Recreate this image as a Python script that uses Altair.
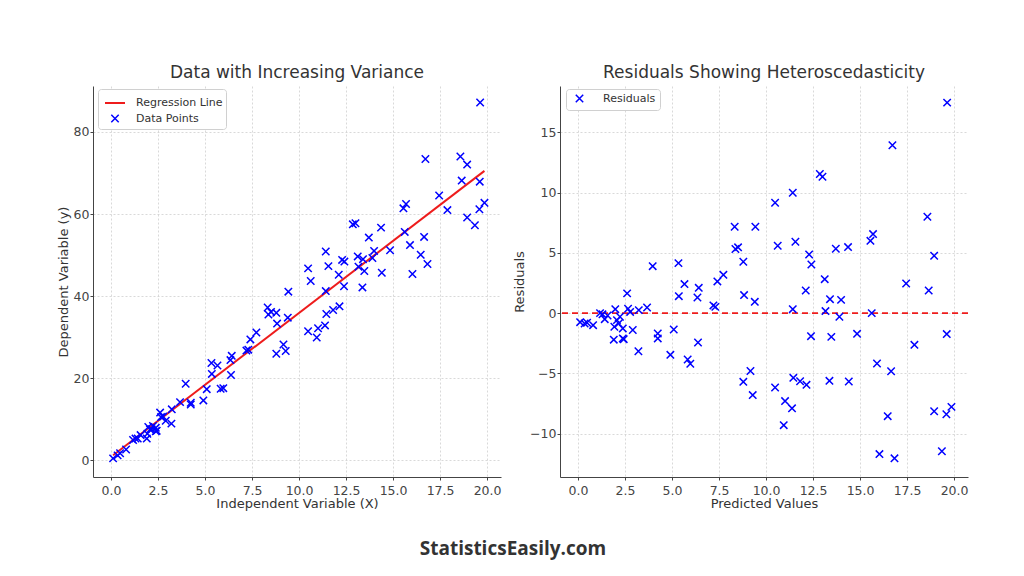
import altair as alt
import pandas as pd

# ---- data ----
X = [0.11, 0.35, 0.48, 0.80, 1.17, 1.30, 1.42, 1.57, 1.98, 1.93,
     1.90, 2.07, 2.16, 2.23, 2.38, 2.43, 2.38, 2.66, 2.77, 2.91,
     3.23, 3.21, 3.67, 4.24, 4.24, 5.09, 4.91, 5.83, 5.97, 6.38,
     7.20, 7.30, 8.79, 9.17, 9.29, 3.97, 5.34, 2.61, 5.66, 5.36,
     6.42, 6.35, 7.41, 7.73, 8.33, 9.43, 8.37, 8.51, 8.79, 8.83,
     9.40, 19.63, 16.72, 12.86, 13.00, 11.42, 10.48, 18.58, 10.62, 11.56,
     12.29, 12.41, 13.71, 14.36, 15.69, 15.55, 18.94, 13.12, 12.11, 13.40,
     13.99, 17.45, 18.65, 11.42, 13.16, 13.90, 15.62, 12.39, 13.47, 14.84,
     17.89, 19.61, 15.90, 16.65, 10.48, 11.45, 11.81, 12.15, 13.37, 14.40,
     11.01, 11.38, 10.94, 16.47, 18.94, 19.59, 19.86, 16.03, 16.83, 19.35]

Y = [0.44, 1.17, 1.68, 2.61, 4.91, 5.26, 5.28, 6.11, 8.08, 6.44,
     5.27, 7.49, 7.52, 8.33, 7.88, 7.17, 7.05, 10.50, 10.62, 9.61,
     12.39, 8.91, 14.15, 13.99, 13.58, 17.31, 14.57, 17.41, 17.55, 20.75,
     26.71, 26.94, 25.95, 28.19, 26.61, 18.63, 23.69, 11.60, 23.08, 21.02,
     25.43, 24.39, 29.44, 31.11, 37.21, 41.07, 35.50, 36.13, 35.91, 33.29,
     34.73, 87.17, 73.42, 57.49, 57.75, 50.87, 46.75, 74.02, 43.67, 47.30,
     48.81, 48.40, 54.26, 56.68, 62.43, 61.38, 72.04, 49.67, 45.19, 48.99,
     51.00, 64.51, 68.14, 41.21, 47.16, 49.29, 55.63, 42.38, 46.11, 51.17,
     60.96, 67.89, 52.43, 54.42, 31.42, 35.62, 36.60, 37.50, 42.11, 45.67,
     32.15, 32.84, 29.90, 50.06, 59.14, 61.17, 62.73, 45.37, 47.82, 57.26]

RES = [-0.75, -0.86, -0.80, -1.00, 0.00, -0.10, -0.50, -0.20, 0.33, -1.13,
       -2.20, -0.58, -0.86, -0.30, -1.27, -2.16, -2.10, 0.36, 0.10, -1.40,
       0.25, -3.16, 0.47, -1.69, -2.10, -1.36, -3.46, -3.85, -4.20, -2.44,
       0.64, 0.52, -5.70, -4.80, -6.80, 3.90, 4.15, 1.64, 2.41, 1.41,
       2.10, 1.30, 2.63, 3.18, 7.17, 7.17, 5.32, 5.46, 4.26, 1.50,
       0.94, 17.47, 13.93, 11.55, 11.32, 9.99, 9.16, 8.00, 5.59, 5.92,
       4.87, 4.04, 5.34, 5.48, 6.56, 6.00, 4.76, 2.82, 1.88, 1.16,
       1.10, 2.46, 1.88, 0.33, 0.17, -0.30, 0.00, -1.91, -1.97, -1.72,
       -2.63, -1.74, -4.18, -4.82, -6.17, -5.37, -5.65, -5.95, -5.62, -5.67,
       -7.30, -7.90, -9.30, -8.55, -8.14, -8.39, -7.78, -11.70, -12.05, -11.46]

LINE_X = [0.11, 19.86]
LINE_Y = [1.19, 70.51]

X_TICKS = [0, 2.5, 5, 7.5, 10, 12.5, 15, 17.5, 20]
Y_TICKS_L = [0, 20, 40, 60, 80]
Y_TICKS_R = [-10, -5, 0, 5, 10, 15]

XPATH = "M-1,-1L1,1M-1,1L1,-1"
FONT = "DejaVu Sans"
BLUE = "#0000ff"
RED = "#ee1c1c"
MSIZE = 55

pts = pd.DataFrame({"x": X, "y": Y, "res": RES})
pts["series"] = "Data Points"
pts["rseries"] = "Residuals"
line = pd.DataFrame({"x": LINE_X, "y": LINE_Y})
line["series"] = "Regression Line"
zero = pd.DataFrame({"y0": [0]})

W, H = 408, 391


def legend(**kw):
    base = dict(title=None, orient="none", legendX=5, legendY=3, fillColor="white",
                strokeColor="#d0d0d0", cornerRadius=3, padding=3,
                labelFontSize=11, labelColor="#333", labelFont=FONT,
                rowPadding=3, symbolOffset=3, labelOffset=10)
    base.update(kw)
    return alt.Legend(**base)


xs = alt.Scale(domain=[-0.96, 20.74], nice=False, zero=False)
xaxis = lambda t: alt.Axis(title=t, values=X_TICKS, format=".1f")

dom_l = ["Regression Line", "Data Points"]
color_l = alt.Color("series:N", scale=alt.Scale(domain=dom_l, range=[RED, BLUE]), legend=legend())
sw_l = alt.StrokeWidth("series:N", scale=alt.Scale(domain=dom_l, range=[2, 1.5]), legend=legend())

left_pts = alt.Chart(pts).mark_point(filled=False, opacity=1).encode(
    x=alt.X("x:Q", scale=xs, axis=xaxis("Independent Variable (X)")),
    y=alt.Y("y:Q", scale=alt.Scale(domain=[-4.1, 91.2], nice=False, zero=False),
            axis=alt.Axis(title="Dependent Variable (y)", values=Y_TICKS_L, format="d")),
    color=color_l,
    shape=alt.Shape("series:N", scale=alt.Scale(domain=dom_l, range=["stroke", XPATH]), legend=legend()),
    size=alt.Size("series:N", scale=alt.Scale(domain=dom_l, range=[400, MSIZE]), legend=legend()),
    strokeWidth=sw_l,
)
left_line = alt.Chart(line).mark_line().encode(
    x="x:Q", y="y:Q", color=color_l, strokeWidth=sw_l,
)
left = alt.layer(left_line, left_pts).properties(
    width=W, height=H,
    title=alt.TitleParams("Data with Increasing Variance"))

rleg = dict(symbolSize=MSIZE, symbolStrokeWidth=1.5, legendX=6, legendY=3, padding=4,
            symbolOffset=4, labelOffset=18)
right_pts = alt.Chart(pts).mark_point(filled=False, strokeWidth=1.5, size=MSIZE, opacity=1).encode(
    x=alt.X("x:Q", scale=xs, axis=xaxis("Predicted Values")),
    y=alt.Y("res:Q", scale=alt.Scale(domain=[-13.6, 18.85], nice=False, zero=False),
            axis=alt.Axis(title="Residuals", values=Y_TICKS_R, format="d")),
    color=alt.Color("rseries:N", scale=alt.Scale(domain=["Residuals"], range=[BLUE]),
                    legend=legend(**rleg)),
    shape=alt.Shape("rseries:N", scale=alt.Scale(domain=["Residuals"], range=[XPATH]),
                    legend=legend(**rleg)),
)
right_zero = alt.Chart(zero).mark_rule(color=RED, strokeDash=[6, 4], strokeWidth=1.6).encode(
    y="y0:Q")
right = alt.layer(right_zero, right_pts).properties(
    width=W, height=H,
    title=alt.TitleParams("Residuals Showing Heteroscedasticity"))

chart = alt.hconcat(left, right, spacing=11).resolve_scale(
    color="independent", shape="independent", size="independent", strokeWidth="independent", y="independent"
).properties(
    title=alt.TitleParams("StatisticsEasily.com", orient="bottom", anchor="middle",
                          fontSize=19, fontWeight="bold", font="Open Sans", color="#333", offset=30),
    padding={"left": 49, "top": 56, "right": 5, "bottom": 5},
).configure_view(stroke=None).configure_axis(
    labelFont=FONT, titleFont=FONT, labelFontSize=12.5, titleFontSize=13,
    labelColor="#444", titleColor="#333", titleFontWeight="normal",
    domainColor="#444", domainWidth=1, tickColor="#444", tickSize=3,
    gridColor="#cfcfcf", gridDash=[2, 2], gridWidth=0.8,
).configure_axisX(domain=True, titlePadding=0.5, labelPadding=4
).configure_axisY(titlePadding=3, labelPadding=1
).configure_title(font=FONT, fontSize=17, fontWeight="normal", color="#333", offset=4)

chart.save("out.html", embed_options={"renderer": "svg", "actions": False})
